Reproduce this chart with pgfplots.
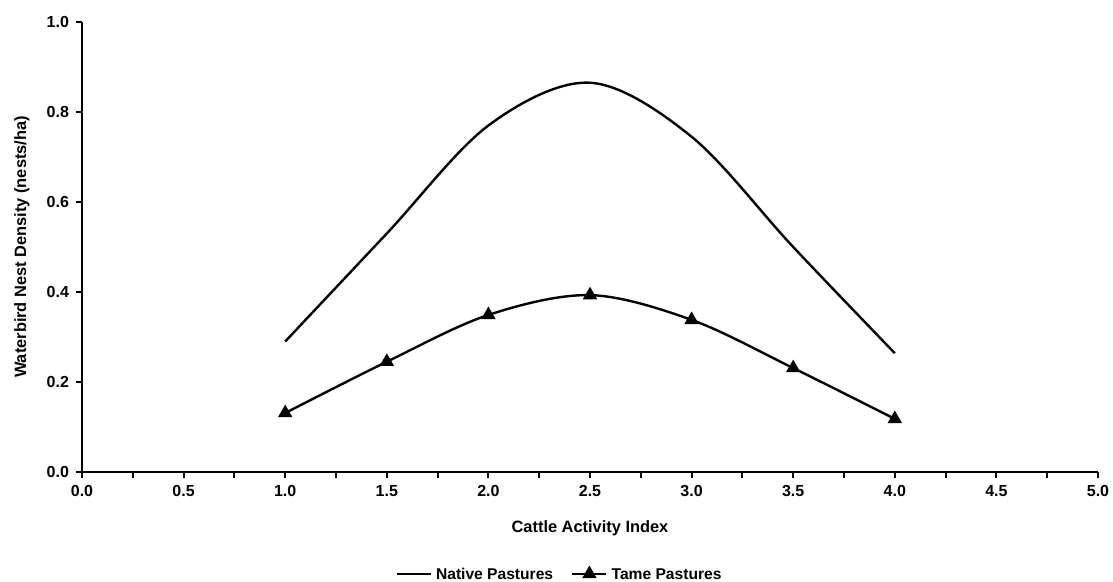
\documentclass[border=0pt]{standalone}
\usepackage{pgfplots}
\pgfplotsset{compat=1.18}
\usepackage{fontspec}
\setmainfont{Liberation Sans}

\begin{document}
\begin{tikzpicture}
\useasboundingbox (-41pt,-55pt) rectangle (515.5pt,236pt);
\begin{axis}[
    scale only axis,
    width=508pt, height=225pt,
    xmin=0, xmax=5,
    ymin=0, ymax=1,
    axis lines*=left,
    axis line style={line width=1.4pt},
    xtick distance=0.5,
    ytick distance=0.2,
    minor x tick num=1,
    tick align=outside,
    major tick length=3pt,
    minor tick length=3pt,
    tick style={line width=1pt, black},
    xticklabel style={/pgf/number format/.cd, fixed, fixed zerofill, precision=1},
    yticklabel style={/pgf/number format/.cd, fixed, fixed zerofill, precision=1},
    /pgf/number format/assume math mode=true,
    ticklabel style={font=\fontsize{8}{9}\selectfont\bfseries},
    label style={font=\fontsize{8.2}{9}\selectfont\bfseries},
    xlabel={Cattle Activity Index},
    ylabel={Waterbird Nest Density (nests/ha)},
    xlabel style={at={(axis description cs:0.5,0)}, anchor=center, yshift=-28pt},
    ylabel style={at={(axis description cs:0,0.5)}, anchor=center, yshift=30pt},
    legend style={at={(axis description cs:0.47,0)}, anchor=center, yshift=-51pt,
        draw=none, fill=none, font=\fontsize{7.8}{9}\selectfont\bfseries,
        legend columns=2, column sep=1pt, inner sep=0pt,
        nodes={inner xsep=1pt, text depth=0pt}},
    legend image code/.code={
        \draw[#1] (0cm,0cm) -- (0.6cm,0cm);
        \draw[#1, mark repeat=2, mark phase=2] plot coordinates {(0cm,0cm) (0.3cm,0cm) (0.6cm,0cm)};
    },
]
\addplot[black, line width=1.2pt, smooth, tension=0.55, no marks] coordinates {
    (1.0,0.290) (1.5,0.530) (2.0,0.770) (2.5,0.865) (3.0,0.745) (3.5,0.500) (4.0,0.264)
};
\addlegendentry{Native Pastures\hspace*{7pt}\mbox{}}
\addplot[black, line width=1.2pt, smooth, tension=0.55, mark=triangle*, mark size=3pt,
    mark options={solid, fill=black}] coordinates {
    (1.0,0.131) (1.5,0.245) (2.0,0.349) (2.5,0.393) (3.0,0.338) (3.5,0.231) (4.0,0.118)
};
\addlegendentry{Tame Pastures}
\end{axis}
\end{tikzpicture}
\end{document}
